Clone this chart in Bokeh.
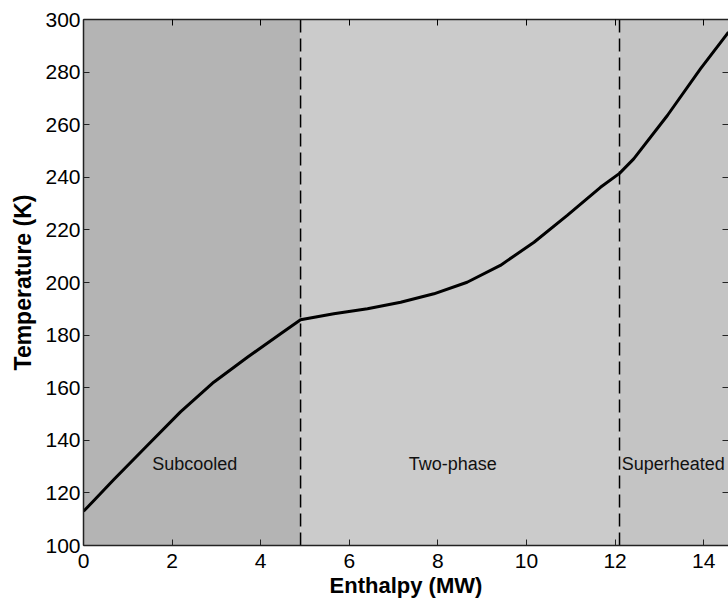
from bokeh.plotting import figure
from bokeh.models import ColumnDataSource, LinearAxis, FixedTicker, Range1d
from bokeh.core.properties import value
from bokeh.embed import file_html
from bokeh.resources import INLINE

# ---- data ----
enthalpy = [0, 0.23, 0.68, 1.44, 2.19, 2.94, 3.70, 4.45, 4.90, 5.65, 6.41, 7.16,
            7.91, 8.66, 9.41, 10.17, 10.92, 11.67, 12.10, 12.42, 13.18, 13.93, 14.56]
temperature = [113, 117, 125, 138, 150.8, 162.1, 171.6, 180.5, 185.8, 188.1, 190.0, 192.5,
               195.7, 200.1, 206.5, 215.3, 225.5, 236.2, 241.5, 247.0, 263.5, 281.3, 295.2]

region_names = ["Subcooled", "Two-phase", "Superheated"]
region_left = [0, 4.90, 12.10]
region_right = [4.90, 12.10, 14.56]
region_colors = ["#b4b4b4", "#cbcbcb", "#c4c4c4"]
region_label_x = [1.55, 7.34, 12.15]
region_label_y = [131, 131, 131]
boundaries = [4.90, 12.10]

x_ticks = [0, 2, 4, 6, 8, 10, 12, 14]
y_ticks = [100, 120, 140, 160, 180, 200, 220, 240, 260, 280, 300]
x_min, x_max = 0, 14.56
y_min, y_max = 100, 300

FONT = "Liberation Sans"

p = figure(width=728, height=605, output_backend="svg", toolbar_location=None,
           x_range=Range1d(x_min, x_max), y_range=Range1d(y_min, y_max),
           min_border_left=83, min_border_top=19, min_border_bottom=60, min_border_right=0)
p.background_fill_color = "white"
p.border_fill_color = "white"
p.outline_line_color = None
p.grid.visible = False

# shaded regions
rsrc = ColumnDataSource(dict(left=region_left, right=region_right,
                             bottom=[y_min] * 3, top=[y_max] * 3, color=region_colors))
p.quad(left="left", right="right", bottom="bottom", top="top", fill_color="color",
       line_color=None, source=rsrc)

# boundaries
for b in boundaries:
    p.line(x=[b, b], y=[y_min, y_max], line_color="black", line_width=1.5, line_dash="13 6")

# curve
p.line(x=enthalpy, y=temperature, line_color="black", line_width=3, line_join="round")

# region labels
tsrc = ColumnDataSource(dict(x=region_label_x, y=region_label_y, t=region_names))
p.text(x="x", y="y", text="t", source=tsrc, text_font=value(FONT), text_font_size="18px",
       text_align="left", text_baseline="middle", text_color="#111111")

# axes
for ax in (p.xaxis[0], p.yaxis[0]):
    ax.major_tick_in = 6
    ax.major_tick_out = 0
    ax.minor_tick_line_color = None
    ax.axis_line_color = "#222222"
    ax.axis_line_width = 1.5
    ax.major_tick_line_color = "#222222"
    ax.major_label_text_font = FONT
    ax.major_label_text_font_size = "21px"
    ax.major_label_text_color = "black"
    ax.axis_label_text_font = FONT
    ax.axis_label_text_font_style = "bold"
    ax.axis_label_text_color = "black"

p.xaxis[0].ticker = FixedTicker(ticks=x_ticks)
p.yaxis[0].ticker = FixedTicker(ticks=y_ticks)
p.xaxis[0].axis_label = "Enthalpy (MW)"
p.yaxis[0].axis_label = "Temperature (K)"
p.xaxis[0].axis_label_text_font_size = "22px"
p.yaxis[0].axis_label_text_font_size = "23px"
p.xaxis[0].major_label_standoff = 8
p.yaxis[0].major_label_standoff = 3
p.xaxis[0].axis_label_standoff = 2
p.yaxis[0].axis_label_standoff = 6

top_ax = LinearAxis(ticker=FixedTicker(ticks=x_ticks),
                    major_label_overrides={t: "" for t in x_ticks},
                    major_tick_in=6, major_tick_out=0, minor_tick_line_color=None,
                    major_label_standoff=0, axis_line_color="#222222", axis_line_width=1.5)
p.add_layout(top_ax, "above")
right_ax = LinearAxis(ticker=FixedTicker(ticks=y_ticks),
                      major_label_overrides={t: "" for t in y_ticks},
                      major_tick_in=6, major_tick_out=0, minor_tick_line_color=None,
                      major_label_standoff=0, axis_line_color=None,
                      major_tick_line_color="#222222")
p.add_layout(right_ax, "right")

open("out.html", "w").write(file_html(p, INLINE))
